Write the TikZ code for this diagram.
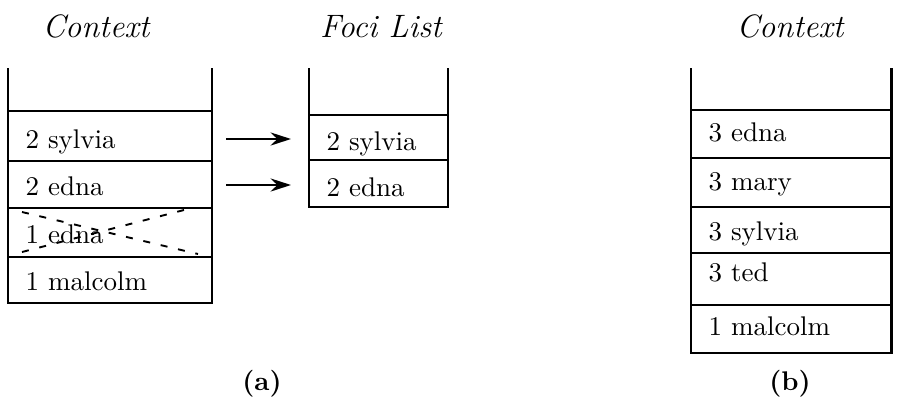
\documentclass[tikz,border=0pt]{standalone}
\usetikzlibrary{fit,arrows.meta}
\begin{document}
\begin{tikzpicture}[x=0.3704pt, y=-0.3704pt,
  wall/.style={line width=1.1pt},
  cell/.style={draw, line width=1.1pt, inner sep=0pt, rectangle},
  entry/.style={anchor=base west, inner sep=0pt, font=\normalsize},
  title/.style={anchor=base, inner sep=0pt, font=\large\itshape},
  caption/.style={anchor=center, inner sep=0pt, font=\bfseries},
  link/.style={line width=1.1pt, -{Stealth[length=7.5pt,width=4.8pt]}},
  strike/.style={line width=0.7pt, dash pattern=on 2.6pt off 4pt}]
\useasboundingbox (0,0) rectangle (898,412);

% ---- (a) Context stack ----
\node[title] (ctxa) at (96,37) {Context};
\draw[wall] (8,68) -- (8,303);
\draw[wall] (212,68) -- (212,303);
\node[cell, fit={(8,111)(212,161)}] (a1) {};
\node[cell, fit={(8,161)(212,208)}] (a2) {};
\node[cell, fit={(8,208)(212,257)}] (a3) {};
\node[cell, fit={(8,257)(212,303)}] (a4) {};
\node[entry] (ta1) at (25,148) {2 sylvia};
\node[entry] (ta2) at (25,195) {2 edna};
\node[entry] (ta3) at (25,243) {1 edna};
\node[entry] (ta4) at (25,290) {1 malcolm};
% dashed cross-out of the discarded entry
\coordinate (x1) at (22,212);
\coordinate (x2) at (198,254);
\coordinate (x3) at (22,252);
\coordinate (x4) at (184,210);
\draw[strike] (x1) -- (x2);
\draw[strike] (x3) -- (x4);

% ---- Foci list ----
\node[title] (foci) at (381,37) {Foci List};
\draw[wall] (309,68) -- (309,207);
\draw[wall] (448,68) -- (448,207);
\node[cell, fit={(309,115)(448,160)}] (f1) {};
\node[cell, fit={(309,160)(448,207)}] (f2) {};
\node[entry] (tf1) at (326,150.7) {2 sylvia};
\node[entry] (tf2) at (326,196.7) {2 edna};

% ---- arrows from context to foci ----
\coordinate (s1) at (226,139);
\coordinate (e1) at (291,139);
\coordinate (s2) at (226,185);
\coordinate (e2) at (291,185);
\draw[link] (s1) -- (e1);
\draw[link] (s2) -- (e2);

\node[caption] (capa) at (262,384) {(a)};

% ---- (b) Context stack ----
\node[title] (ctxb) at (790,37) {Context};
\draw[wall] (691,68) -- (691,353);
\draw[wall] (891,68) -- (891,353);
\node[cell, fit={(691,110)(891,158)}] (b1) {};
\node[cell, fit={(691,158)(891,207)}] (b2) {};
\node[cell, fit={(691,207)(891,253)}] (b3) {};
\node[cell, fit={(691,253)(891,305)}] (b4) {};
\node[cell, fit={(691,305)(891,353)}] (b5) {};
\node[entry] (tb1) at (708,141.7) {3 edna};
\node[entry] (tb2) at (708,190) {3 mary};
\node[entry] (tb3) at (708,240) {3 sylvia};
\node[entry] (tb4) at (708,281.7) {3 ted};
\node[entry] (tb5) at (708,335) {1 malcolm};

\node[caption] (capb) at (790,384) {(b)};
\end{tikzpicture}
\end{document}
